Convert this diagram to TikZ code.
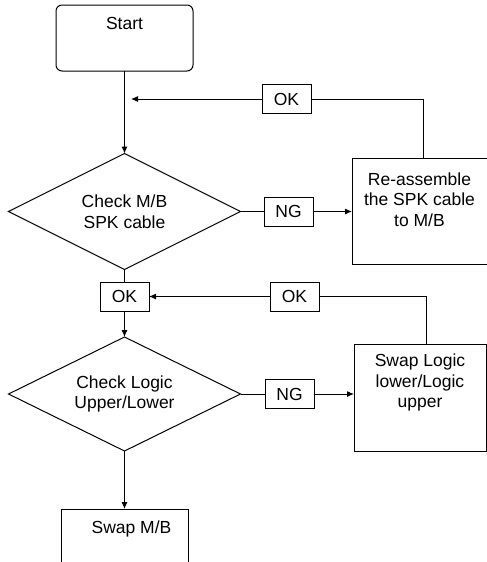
\documentclass[tikz,border=0pt]{standalone}
\usepackage{fontspec}
\setmainfont{Liberation Sans}
\usepackage{tikz}
\usetikzlibrary{arrows.meta, shapes.geometric}

\begin{document}
\begin{tikzpicture}[
  x=1pt, y=-1pt,
  font=\fontsize{17.5}{20.5}\selectfont,
  box/.style={draw, line width=1pt, inner sep=0pt, outer sep=0pt},
  txt/.style={anchor=north, align=center, inner sep=0pt},
  dec/.style={draw, diamond, aspect=2, align=center, line width=1pt,
              inner sep=0pt, outer sep=0pt,
              minimum width=232pt, minimum height=116pt},
  tag/.style={draw, line width=1pt, inner sep=0pt, outer sep=0pt,
              minimum width=49pt, minimum height=29pt},
  ln/.style={line width=1pt},
  arr/.style={-{Latex[length=7pt, width=6pt]}, line width=1pt}]
  \useasboundingbox (0,0) rectangle (487,562);
  \node[box, rounded corners=6pt, minimum width=137pt, minimum height=66pt,
        label={[txt, yshift=-12pt]north:Start}] (start) at (124.5,38) {};
  \node[dec] (chk1) at (124.5,211.5) {Check M/B\\SPK cable};
  \node[tag] (ng1) at (288.5,211.5) {NG};
  \node[box, minimum width=135pt, minimum height=106pt,
        label={[txt, yshift=-14pt]north:{Re-assemble\\the SPK cable\\to M/B}}] (fix) at (419.5,211.5) {};
  \node[tag] (ok1) at (286.5,99) {OK};
  \node[tag] (ok2) at (124.5,296.5) {OK};
  \node[tag] (ok3) at (294.5,296.5) {OK};
  \node[dec, minimum height=114pt] (chk2) at (124.5,394) {Check Logic\\Upper/Lower};
  \node[tag] (ng2) at (289.5,394) {NG};
  \node[box, minimum width=132pt, minimum height=107pt,
        label={[txt, yshift=-10pt]north:{Swap Logic\\lower/Logic\\upper}}] (swap) at (420,397.5) {};
  \node[box, minimum width=127pt, minimum height=66pt,
        label={[txt, xshift=7pt, yshift=-12pt]north:Swap M/B}] (mb) at (124.5,542) {};

  % main column
  \draw[arr] (start.south) -- (chk1.north);
  \draw[ln] (chk1.south) -- (ok2.north);
  \draw[arr] (ok2.south) -- (chk2.north);
  \draw[arr] (chk2.south) -- (mb.north);
  % NG branches
  \draw[ln] (chk1.east) -- (ng1.west);
  \draw[arr] (ng1.east) -- (fix.west);
  \draw[ln] (chk2.east) -- (ng2.west);
  \draw[arr] (ng2.east) -- (swap.west |- ng2.east);
  % OK returns
  \draw[ln] ([xshift=3.5pt]fix.north) |- (ok1.east);
  \draw[arr] (ok1.west) -- ([xshift=6.5pt]start.south |- ok1.west);
  \draw[ln] ([xshift=6pt]swap.north) |- (ok3.east);
  \draw[arr] (ok3.west) -- (ok2.east);
\end{tikzpicture}
\end{document}
